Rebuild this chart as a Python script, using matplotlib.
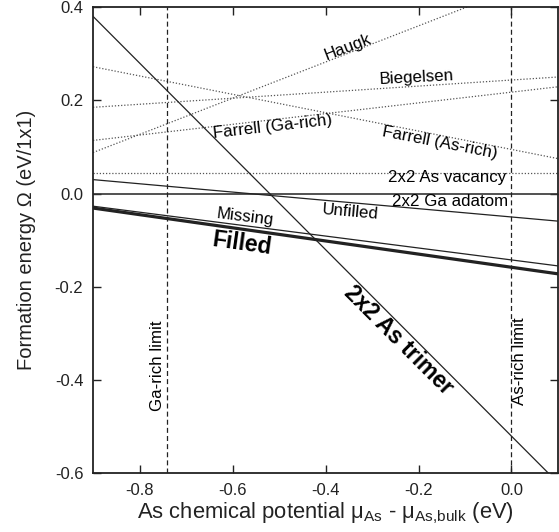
import matplotlib
matplotlib.use("Agg")
import matplotlib.pyplot as plt
import numpy as np

plt.rcParams['font.family'] = ['Liberation Sans', 'DejaVu Sans']
plt.rcParams['mathtext.fontset'] = 'custom'
plt.rcParams['mathtext.rm'] = 'Liberation Sans'
plt.rcParams['mathtext.it'] = 'Liberation Sans'
plt.rcParams['axes.unicode_minus'] = False

# chemical potential range (eV)
mu = [-0.9, 0.1]

# formation energies at the two ends of the range (eV/1x1)
as_trimer = [0.38, -0.62]
filled = [-0.031, -0.172]
missing = [-0.027, -0.155]
unfilled = [0.030, -0.059]
ga_adatom = [0.0, 0.0]
as_vacancy = [0.045, 0.045]
haugk = [0.088, 0.476]
biegelsen = [0.185, 0.250]
farrell_ga = [0.114, 0.229]
farrell_as = [0.272, 0.075]

# stability limits
ga_rich_limit = -0.74
as_rich_limit = 0.0

xticks = [-0.8, -0.6, -0.4, -0.2, 0.0]
yticks = [-0.6, -0.4, -0.2, 0.0, 0.2, 0.4]

fig = plt.figure(figsize=(5.59, 5.32), dpi=100)
ax = fig.add_axes([0.1664, 0.110, 0.8318, 0.8768])

# dotted: models from other works
dot = dict(color='#555555', lw=0.9, ls=(0, (1, 1.5)))
for ys in [haugk, biegelsen, farrell_ga, farrell_as, as_vacancy]:
    ax.plot(mu, ys, **dot)

# solid lines
ax.plot(mu, ga_adatom, color='#333333', lw=1.2)
ax.plot(mu, unfilled, color='#222222', lw=0.9)
ax.plot(mu, missing, color='#222222', lw=0.9)
ax.plot(mu, filled, color='#222222', lw=2.3)
ax.plot(mu, as_trimer, color='#222222', lw=0.9)

# limits
ax.axvline(ga_rich_limit, color='#222222', lw=0.9, ls=(0, (4, 2.5)))
ax.axvline(as_rich_limit, color='#222222', lw=0.9, ls=(0, (4, 2.5)))

fs = 12.2
ax.text(-0.353, 0.314, 'Haugk', fontsize=fs, rotation=21, ha='center', va='center')
ax.text(-0.204, 0.248, 'Biegelsen', fontsize=fs, rotation=3, ha='center', va='center')
ax.text(-0.514, 0.143, 'Farrell (Ga-rich)', fontsize=fs, rotation=6.5, ha='center', va='center')
ax.text(-0.155, 0.109, 'Farrell (As-rich)', fontsize=fs, rotation=-11, ha='center', va='center')
ax.text(-0.138, 0.034, '2x2 As vacancy', fontsize=fs, ha='center', va='center')
ax.text(-0.133, -0.017, '2x2 Ga adatom', fontsize=fs, ha='center', va='center')
ax.text(-0.346, -0.0385, 'Unfilled', fontsize=fs, rotation=-5, ha='center', va='center')
ax.text(-0.574, -0.051, 'Missing', fontsize=fs, rotation=-7, ha='center', va='center')
ax.text(-0.58, -0.107, 'Filled', fontsize=16.5, fontweight='bold', rotation=-8,
        ha='center', va='center')
ax.text(-0.243, -0.314, '2x2 As trimer', fontsize=16.5, fontweight='bold', rotation=-45,
        ha='center', va='center')
ax.text(-0.761, -0.368, 'Ga-rich limit', fontsize=fs, rotation=90, ha='center', va='center')
ax.text(0.017, -0.359, 'As-rich limit', fontsize=fs, rotation=90, ha='center', va='center')

ax.set_xlim(-0.9, 0.1)
ax.set_ylim(-0.6, 0.4)
ax.set_xticks(xticks)
ax.set_yticks(yticks)
ax.set_xticklabels(['%.1f' % v for v in xticks])
ax.set_yticklabels(['%.1f' % v for v in yticks])
ax.tick_params(direction='in', length=6, width=1, top=True, right=True,
               labelsize=12, pad=7, colors='#222222')
for s in ax.spines.values():
    s.set_linewidth(1.3)
    s.set_color('#222222')

ax.set_xlabel(r'As chemical potential $\mu_{\rm As}$ - $\mu_{\rm As{,}bulk}$ (eV)',
              fontsize=15.8, color='#222222', labelpad=2)
ax.set_ylabel('Formation energy Ω (eV/1x1)', fontsize=14.5, color='#222222', labelpad=13.5)

fig.savefig('out.png', dpi=100)
